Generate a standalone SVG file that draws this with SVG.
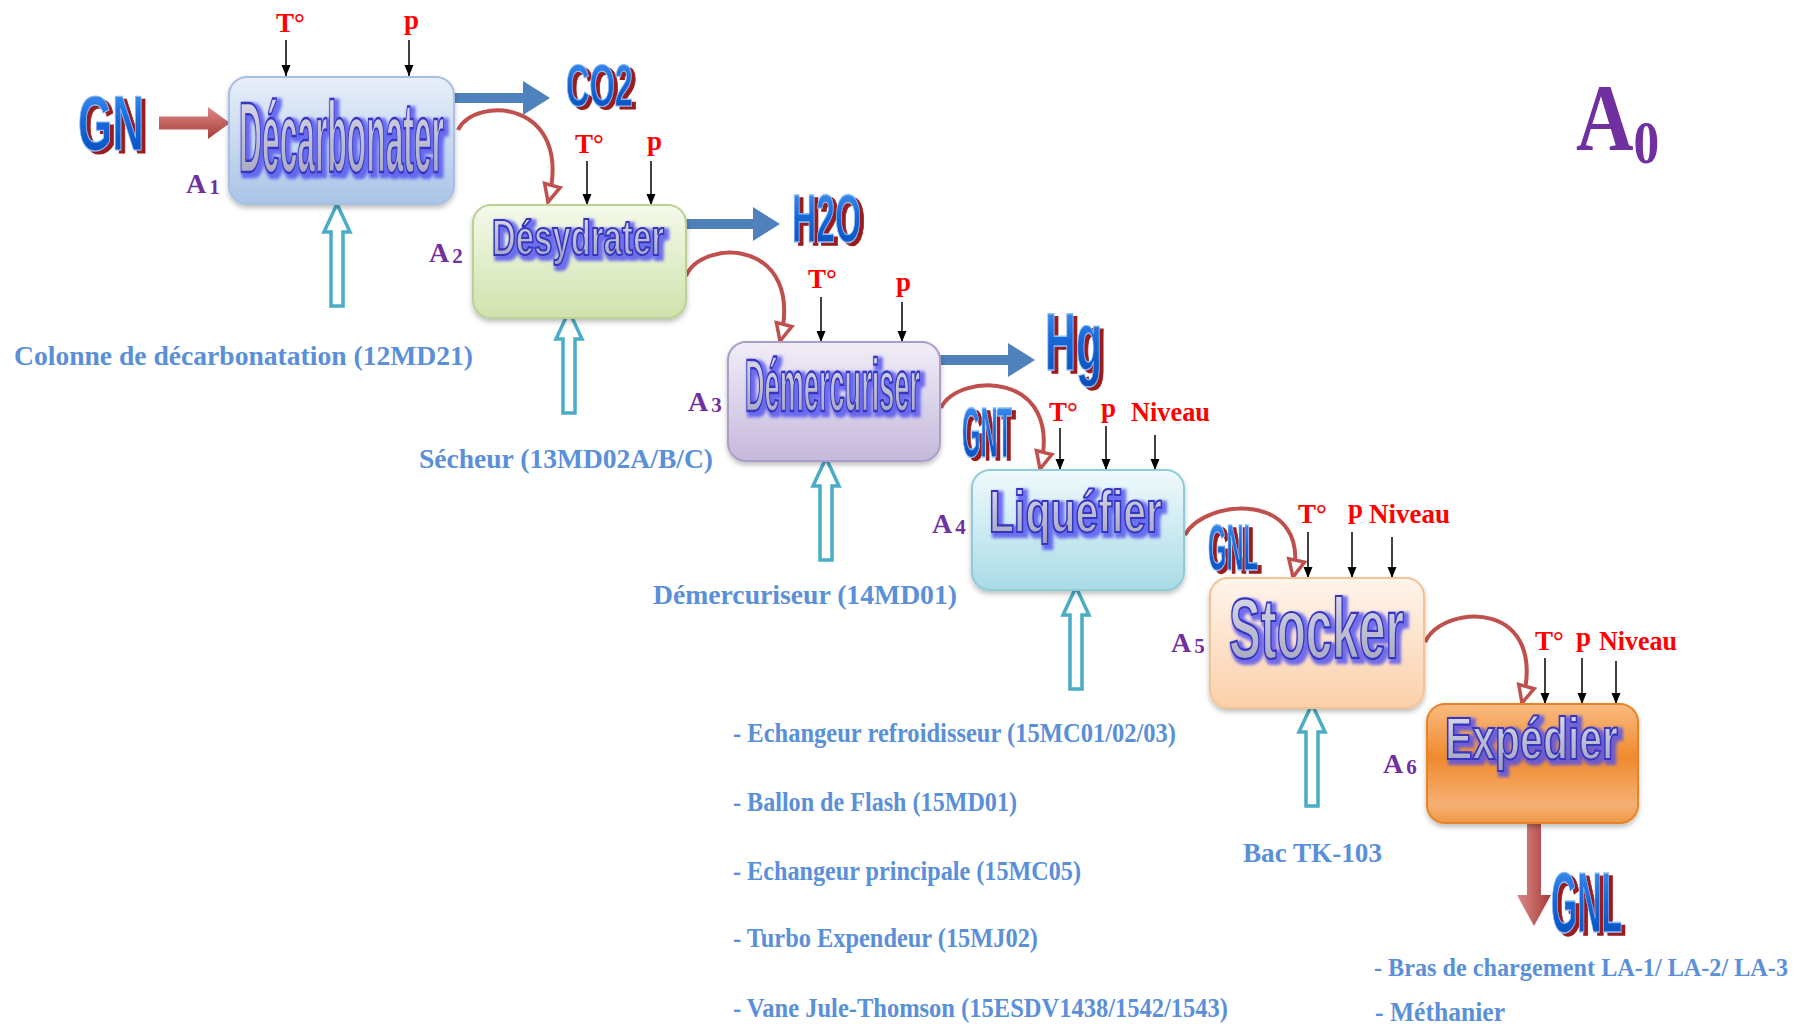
<svg xmlns="http://www.w3.org/2000/svg" width="1804" height="1026" viewBox="0 0 1804 1026">
  <defs>
    <!-- box fills -->
    <linearGradient id="gB1" x1="0" y1="0" x2="0" y2="1"><stop offset="0" stop-color="#e8eff9"/><stop offset="1" stop-color="#aac4e7"/></linearGradient>
    <linearGradient id="gB2" x1="0" y1="0" x2="0" y2="1"><stop offset="0" stop-color="#f5f9ea"/><stop offset="1" stop-color="#d0e2ac"/></linearGradient>
    <linearGradient id="gB3" x1="0" y1="0" x2="0" y2="1"><stop offset="0" stop-color="#f1edf7"/><stop offset="1" stop-color="#c5b9dc"/></linearGradient>
    <linearGradient id="gB4" x1="0" y1="0" x2="0" y2="1"><stop offset="0" stop-color="#f0fafc"/><stop offset="1" stop-color="#a9dbe6"/></linearGradient>
    <linearGradient id="gB5" x1="0" y1="0" x2="0" y2="1"><stop offset="0" stop-color="#fff5ec"/><stop offset="1" stop-color="#fbcfa9"/></linearGradient>
    <linearGradient id="gB6" x1="0" y1="0" x2="0" y2="1"><stop offset="0" stop-color="#f9bb80"/><stop offset="0.45" stop-color="#f08a2e"/><stop offset="0.85" stop-color="#f6b074"/><stop offset="1" stop-color="#ee9846"/></linearGradient>
    <!-- lettering fills -->
    <linearGradient id="gWord" x1="0" y1="0" x2="0" y2="1"><stop offset="0" stop-color="#e2e2ee"/><stop offset="1" stop-color="#9d9dba"/></linearGradient>
    <linearGradient id="gBlue" x1="0" y1="0" x2="0" y2="1"><stop offset="0" stop-color="#4a9af5"/><stop offset="0.5" stop-color="#1466d8"/><stop offset="1" stop-color="#0a4cb8"/></linearGradient>
    <linearGradient id="gRedH" x1="0" y1="0" x2="0" y2="1"><stop offset="0" stop-color="#dc8a88"/><stop offset="1" stop-color="#a63c39"/></linearGradient>
    <linearGradient id="gRedV" x1="0" y1="0" x2="1" y2="0"><stop offset="0" stop-color="#dc8a88"/><stop offset="1" stop-color="#a63c39"/></linearGradient>
    <filter id="shadow" x="-10%" y="-10%" width="120%" height="130%">
      <feDropShadow dx="0" dy="3" stdDeviation="2.5" flood-color="#000" flood-opacity="0.25"/>
    </filter>
    <!-- dark red offset shadow behind stream names -->
    <filter id="fTag" x="-15%" y="-15%" width="140%" height="140%">
      <feFlood flood-color="#9b1c1c" result="c"/>
      <feComposite in="c" in2="SourceAlpha" operator="in" result="s"/>
      <feOffset in="s" dx="4" dy="3" result="o"/>
      <feMerge><feMergeNode in="o"/><feMergeNode in="SourceGraphic"/></feMerge>
    </filter>
    <!-- soft blue halo behind activity names -->
    <filter id="fWord" x="-10%" y="-20%" width="125%" height="150%">
      <feFlood flood-color="#5050f0" flood-opacity="0.8" result="c"/>
      <feComposite in="c" in2="SourceAlpha" operator="in" result="s"/>
      <feMorphology in="s" operator="dilate" radius="1.5" result="d"/>
      <feGaussianBlur in="d" stdDeviation="1.6" result="b"/>
      <feOffset in="b" dx="3" dy="3" result="o"/>
      <feMerge><feMergeNode in="o"/><feMergeNode in="SourceGraphic"/></feMerge>
    </filter>
    <marker id="hollow" markerUnits="userSpaceOnUse" markerWidth="26" markerHeight="26" viewBox="0 0 26 26" refX="21" refY="13" orient="auto">
      <path d="M4,5 L21,13 L4,21 Z" fill="#fff" stroke="#c0504d" stroke-width="3.5"/>
    </marker>
    <marker id="tick" markerUnits="userSpaceOnUse" markerWidth="12" markerHeight="12" viewBox="0 0 12 12" refX="11" refY="6" orient="auto">
      <path d="M0,1.5 L11,6 L0,10.5 Z" fill="#000"/>
    </marker>
    <path id="upArrow" d="M0,0 L13,28 L6,28 L6,102 L-6,102 L-6,28 L-13,28 Z"/>
  </defs>
  <style>
    .box { stroke-width: 2; filter: url(#shadow); }
    .wa { font-family: "Liberation Sans", Arial, sans-serif; font-weight: bold; }
    .waFx { filter: url(#fWord); }
    .waFace { fill: url(#gWord); stroke: #3434c0; stroke-width: 1.8; vector-effect: non-scaling-stroke; }
    .tagFx { filter: url(#fTag); }
    .tag { fill: url(#gBlue); stroke: #8cbcf6; stroke-width: 1; vector-effect: non-scaling-stroke; }
    .ser { font-family: "Liberation Serif", "Times New Roman", serif; font-weight: bold; }
    .ctl { fill: #ff0000; font-size: 27px; }
    .aLbl { fill: #7030a0; font-size: 28px; }
    .equip { fill: #5a8fd9; font-size: 28px; }
    .flow { fill: none; stroke: #c0504d; stroke-width: 4; marker-end: url(#hollow); }
    .ctlArrow { stroke: #000; stroke-width: 1.5; marker-end: url(#tick); }
    .mech { fill: #fff; stroke: #4bacc6; stroke-width: 3.5; stroke-linejoin: miter; }
    .out { fill: #4f81bd; }
  </style>

  <!-- connectors -->
  <g id="connectors">
    <!-- natural gas feed -->
    <polygon points="159,116.5 208,116.5 208,107 230,123 208,139 208,129.5 159,129.5" fill="url(#gRedH)"/>
    <!-- by-product outputs -->
    <polygon class="out" points="454,93 523,93 523,81 550,98 523,115 523,103 454,103"/>
    <polygon class="out" points="686,219 753,219 753,207 780,224 753,241 753,229 686,229"/>
    <polygon class="out" points="940,355 1008,355 1008,343 1035,360 1008,377 1008,365 940,365"/>
    <!-- LNG shipping output -->
    <polygon points="1527,823 1541,823 1541,895 1551,895 1534,926 1517,895 1527,895" fill="url(#gRedV)"/>

    <!-- main process flow between steps -->
    <path class="flow" d="M458,130 C475,95 575,100 548,202"/>
    <path class="flow" d="M686,276 C702,238 806,238 780,341"/>
    <path class="flow" d="M941,408 C958,372 1065,370 1040,469"/>
    <path class="flow" d="M1185,535 C1205,498 1312,490 1293,577"/>
    <path class="flow" d="M1425,642 C1445,602 1550,600 1522,703"/>

    <!-- control inputs -->
    <line class="ctlArrow" x1="286" y1="40" x2="286" y2="76"/>
    <line class="ctlArrow" x1="409" y1="40" x2="409" y2="76"/>
    <line class="ctlArrow" x1="587" y1="161" x2="587" y2="205"/>
    <line class="ctlArrow" x1="651" y1="161" x2="651" y2="205"/>
    <line class="ctlArrow" x1="821" y1="297" x2="821" y2="342"/>
    <line class="ctlArrow" x1="902" y1="302" x2="902" y2="342"/>
    <line class="ctlArrow" x1="1060" y1="428" x2="1060" y2="470"/>
    <line class="ctlArrow" x1="1106" y1="426" x2="1106" y2="470"/>
    <line class="ctlArrow" x1="1155" y1="435" x2="1155" y2="470"/>
    <line class="ctlArrow" x1="1308" y1="532" x2="1308" y2="578"/>
    <line class="ctlArrow" x1="1352" y1="532" x2="1352" y2="578"/>
    <line class="ctlArrow" x1="1392" y1="537" x2="1392" y2="578"/>
    <line class="ctlArrow" x1="1545" y1="658" x2="1545" y2="704"/>
    <line class="ctlArrow" x1="1582" y1="658" x2="1582" y2="704"/>
    <line class="ctlArrow" x1="1616" y1="661" x2="1616" y2="704"/>

    <!-- mechanisms (equipment) -->
    <use href="#upArrow" class="mech" x="337" y="204"/>
    <use href="#upArrow" class="mech" x="569" y="311"/>
    <use href="#upArrow" class="mech" x="826" y="458"/>
    <use href="#upArrow" class="mech" x="1076" y="587"/>
    <use href="#upArrow" class="mech" x="1312" y="704"/>
  </g>

  <!-- stream labels (tall condensed lettering) -->
  <g id="stream-labels" class="wa">
    <g id="lbl-gn" class="tagFx"><text class="tag" font-size="44" textLength="66" lengthAdjust="spacingAndGlyphs" transform="translate(78,150) scale(1,1.77)">GN</text></g>
    <g id="lbl-co2" class="tagFx"><text class="tag" font-size="32.6" textLength="67" lengthAdjust="spacingAndGlyphs" transform="translate(566,106) scale(1,1.84)">CO2</text></g>
    <g id="lbl-h2o" class="tagFx"><text class="tag" font-size="33.6" textLength="69" lengthAdjust="spacingAndGlyphs" transform="translate(792,242) scale(1,2.02)">H2O</text></g>
    <g id="lbl-hg" class="tagFx"><text class="tag" font-size="42.8" textLength="57" lengthAdjust="spacingAndGlyphs" transform="translate(1045,370) scale(1,1.92)">Hg</text></g>
    <g id="lbl-gnt" class="tagFx"><text class="tag" font-size="23.7" textLength="50" lengthAdjust="spacingAndGlyphs" transform="translate(962,457) scale(1,2.95)">GNT</text></g>
    <g id="lbl-gnl" class="tagFx"><text class="tag" font-size="23.7" textLength="50" lengthAdjust="spacingAndGlyphs" transform="translate(1208,570) scale(1,2.74)">GNL</text></g>
    <g id="lbl-gnl-out" class="tagFx"><text class="tag" font-size="33.6" textLength="71" lengthAdjust="spacingAndGlyphs" transform="translate(1551,932) scale(1,2.53)">GNL</text></g>
  </g>

  <!-- A1 -->
  <g id="a1">
    <rect class="box" x="229" y="77" width="225" height="127" rx="18" fill="url(#gB1)" stroke="#a6bfe2"/>
    <g class="wa waFx"><text class="waFace" font-size="31.8" textLength="205" lengthAdjust="spacingAndGlyphs" transform="translate(239,172) scale(1,3.14)">Décarbonater</text></g>
    <text class="ser aLbl" x="186" y="193">A<tspan font-size="21" dx="3" dy="1">1</tspan></text>
  </g>

  <!-- A2 -->
  <g id="a2">
    <rect class="box" x="473" y="205" width="213" height="113" rx="18" fill="url(#gB2)" stroke="#bcd195"/>
    <g class="wa waFx"><text class="waFace" font-size="32.9" textLength="172" lengthAdjust="spacingAndGlyphs" transform="translate(492,255) scale(1,1.52)">Désydrater</text></g>
    <text class="ser aLbl" x="429" y="262">A<tspan font-size="21" dx="3" dy="1">2</tspan></text>
  </g>

  <!-- A3 -->
  <g id="a3">
    <rect class="box" x="728" y="342" width="212" height="119" rx="18" fill="url(#gB3)" stroke="#ab9ec9"/>
    <g class="wa waFx"><text class="waFace" font-size="27.1" textLength="175" lengthAdjust="spacingAndGlyphs" transform="translate(745,411) scale(1,2.73)">Démercuriser</text></g>
    <text class="ser aLbl" x="688" y="411">A<tspan font-size="21" dx="3" dy="1">3</tspan></text>
  </g>

  <!-- A4 -->
  <g id="a4">
    <rect class="box" x="972" y="470" width="212" height="120" rx="18" fill="url(#gB4)" stroke="#92cbd8"/>
    <g class="wa waFx"><text class="waFace" font-size="41" textLength="173" lengthAdjust="spacingAndGlyphs" transform="translate(989,532) scale(1,1.46)">Liquéfier</text></g>
    <text class="ser aLbl" x="932" y="533">A<tspan font-size="21" dx="3" dy="1">4</tspan></text>
  </g>

  <!-- A5 -->
  <g id="a5">
    <rect class="box" x="1210" y="578" width="214" height="130" rx="18" fill="url(#gB5)" stroke="#f3c398"/>
    <g class="wa waFx"><text class="waFace" font-size="47.7" textLength="175" lengthAdjust="spacingAndGlyphs" transform="translate(1229,658) scale(1,1.8)">Stocker</text></g>
    <text class="ser aLbl" x="1171" y="652">A<tspan font-size="21" dx="3" dy="1">5</tspan></text>
  </g>

  <!-- A6 -->
  <g id="a6">
    <rect class="box" x="1427" y="704" width="211" height="119" rx="18" fill="url(#gB6)" stroke="#e5842c"/>
    <g class="wa waFx"><text class="waFace" font-size="41" textLength="173" lengthAdjust="spacingAndGlyphs" transform="translate(1445,759) scale(1,1.46)">Expédier</text></g>
    <text class="ser aLbl" x="1383" y="773">A<tspan font-size="21" dx="3" dy="1">6</tspan></text>
  </g>

  <!-- controls -->
  <g id="controls" class="ser ctl">
    <text x="276" y="32">T°</text>
    <text x="404" y="29">p</text>
    <text x="575" y="153">T°</text>
    <text x="647" y="150">p</text>
    <text x="808" y="288">T°</text>
    <text x="896" y="291">p</text>
    <text x="1049" y="421">T°</text>
    <text x="1101" y="417">p</text>
    <text x="1131" y="421" textLength="79" lengthAdjust="spacingAndGlyphs">Niveau</text>
    <text x="1298" y="523">T°</text>
    <text x="1348" y="518">p</text>
    <text x="1369" y="523" textLength="81" lengthAdjust="spacingAndGlyphs">Niveau</text>
    <text x="1535" y="650">T°</text>
    <text x="1576" y="646">p</text>
    <text x="1599" y="650" textLength="78" lengthAdjust="spacingAndGlyphs">Niveau</text>
  </g>

  <!-- equipment -->
  <g id="equipment" class="ser equip" xml:space="preserve">
    <text x="14" y="365" textLength="459" lengthAdjust="spacingAndGlyphs">Colonne de décarbonatation (12MD21)</text>
    <text x="419" y="468" textLength="294" lengthAdjust="spacingAndGlyphs">Sécheur (13MD02A/B/C)</text>
    <text x="653" y="604" textLength="304" lengthAdjust="spacingAndGlyphs">Démercuriseur (14MD01)</text>
    <text x="733" y="742" textLength="443" lengthAdjust="spacingAndGlyphs">-  Echangeur refroidisseur (15MC01/02/03)</text>
    <text x="733" y="811" textLength="284" lengthAdjust="spacingAndGlyphs">- Ballon de Flash (15MD01)</text>
    <text x="733" y="880" textLength="348" lengthAdjust="spacingAndGlyphs">- Echangeur principale (15MC05)</text>
    <text x="733" y="947" textLength="305" lengthAdjust="spacingAndGlyphs">- Turbo Expendeur (15MJ02)</text>
    <text x="733" y="1017" textLength="495" lengthAdjust="spacingAndGlyphs">-  Vane Jule-Thomson (15ESDV1438/1542/1543)</text>
    <text x="1243" y="862" textLength="139" lengthAdjust="spacingAndGlyphs">Bac TK-103</text>
    <text x="1374" y="976" font-size="24.5" textLength="414" lengthAdjust="spacingAndGlyphs">-  Bras de chargement LA-1/ LA-2/ LA-3</text>
    <text x="1375" y="1021" textLength="130" lengthAdjust="spacingAndGlyphs">-  Méthanier</text>
  </g>

  <!-- diagram title: A with subscript 0 -->
  <g id="title" class="ser" fill="#7030a0">
    <text font-size="96" transform="translate(1576,150) scale(0.83,1)">A<tspan font-size="62" dy="13">0</tspan></text>
  </g>
</svg>
